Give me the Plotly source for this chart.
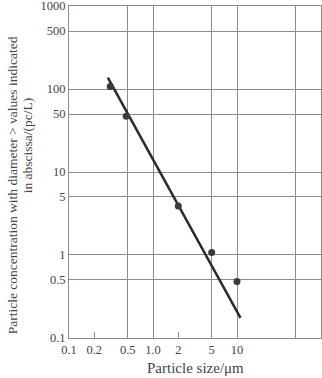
import plotly.graph_objects as go

# Data points
size_um = [0.31, 0.48, 2.0, 5.0, 10.0]
concentration = [107, 47, 3.9, 1.07, 0.48]

# Fitted trend line (end points)
fit_x = [0.29, 11.0]
fit_y = [137, 0.175]

# Axis ticks
x_tick_vals = [0.1, 0.2, 0.5, 1, 2, 5, 10]
x_tick_text = ["0.1", "0.2", "0.5", "1.0", "2", "5", "10"]
x_grid_vals = [0.5, 1, 5, 10, 50]
y_tick_vals = [0.1, 0.5, 1, 5, 10, 50, 100, 500, 1000]
y_tick_text = ["0.1", "0.5", "1", "5", "10", "50", "100", "500", "1000"]

FONT = "Liberation Serif, Times New Roman, serif"
GRID = "#8c8c8c"
TXT = "#444444"

fig = go.Figure()
fig.add_trace(go.Scatter(x=fit_x, y=fit_y, mode="lines",
                         line=dict(color="#2b2b2b", width=2.5), showlegend=False))
fig.add_trace(go.Scatter(x=size_um, y=concentration, mode="markers",
                         marker=dict(color="#3a3a3a", size=7), showlegend=False))

fig.update_layout(
    width=322, height=378,
    margin=dict(l=69, r=1, t=6, b=40, autoexpand=False),
    paper_bgcolor="white", plot_bgcolor="white",
    font=dict(family=FONT, color=TXT, size=12),
    xaxis=dict(
        type="log", range=[-1, 2], automargin=False,
        tickmode="array", tickvals=x_tick_vals, ticktext=x_tick_text,
        showgrid=False, ticks="inside", ticklen=6, tickcolor=GRID, tickwidth=1,
        minor=dict(tickmode="array", tickvals=x_grid_vals, showgrid=True,
                   gridcolor=GRID, gridwidth=1, ticklen=0),
        showline=True, linecolor=GRID, linewidth=1, mirror=True,
        tickfont=dict(family=FONT, size=12.5, color=TXT),
        ticklabeloverflow="allow",
        zeroline=False,
    ),
    yaxis=dict(
        type="log", range=[-1.0005, 3.0005], automargin=False,
        tickmode="array", tickvals=y_tick_vals, ticktext=y_tick_text,
        showgrid=True, gridcolor=GRID, gridwidth=1, ticks="",
        showline=True, linecolor=GRID, linewidth=1, mirror=True,
        tickfont=dict(family=FONT, size=12.5, color=TXT),
        ticklabeloverflow="allow",
        zeroline=False,
    ),
    annotations=[
        dict(text="Particle concentration with diameter > values indicated",
             xref="paper", yref="paper", x=-0.226, y=0.46, textangle=-90,
             showarrow=False, xanchor="center", yanchor="middle",
             font=dict(family=FONT, size=13.5, color=TXT)),
        dict(text="in abscissa/(pc/L)",
             xref="paper", yref="paper", x=-0.163, y=0.58, textangle=-90,
             showarrow=False, xanchor="center", yanchor="middle",
             font=dict(family=FONT, size=13.5, color=TXT)),
        dict(text="Particle size/\u03bcm",
             xref="paper", yref="paper", x=0.5, y=-0.09,
             showarrow=False, xanchor="center", yanchor="middle",
             font=dict(family=FONT, size=15, color=TXT)),
    ],
)

fig.write_html("out.html", config={"displayModeBar": False},
               post_script="document.body.style.margin='0';document.body.style.overflow='hidden';")
